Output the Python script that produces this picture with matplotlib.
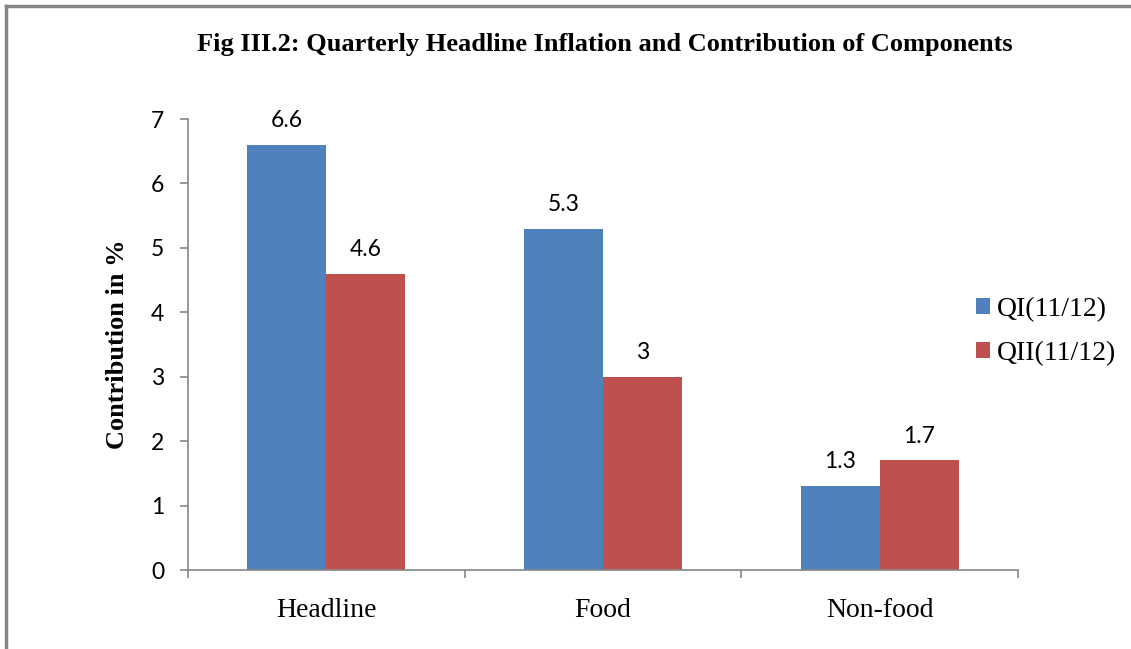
import matplotlib.pyplot as plt
import numpy as np
from matplotlib.lines import Line2D

# data
categories = ["Headline", "Food", "Non-food"]
series_names = ["QI(11/12)", "QII(11/12)"]
q1_values = [6.6, 5.3, 1.3]
q2_values = [4.6, 3.0, 1.7]
q1_labels = ["6.6", "5.3", "1.3"]
q2_labels = ["4.6", "3", "1.7"]

blue = "#4F81BD"
red = "#C0504D"
gray = "#868686"

fig = plt.figure(figsize=(11.31, 6.49), dpi=100)
ax = fig.add_axes([0.1662, 0.1217, 0.7339, 0.6949])

x = np.arange(len(categories))
w = 0.286
b1 = ax.bar(x - w / 2, q1_values, w, color=blue, label=series_names[0])
b2 = ax.bar(x + w / 2, q2_values, w, color=red, label=series_names[1])

# data labels
for bars, labels in ((b1, q1_labels), (b2, q2_labels)):
    for rect, lab in zip(bars, labels):
        ax.annotate(lab, (rect.get_x() + rect.get_width() / 2, rect.get_height()),
                    xytext=(0, 10), textcoords="offset points", ha="center", va="bottom",
                    fontsize=16.5, family="Lato")

ax.set_xlim(-0.5, 2.5)
ax.set_ylim(0, 7)
ax.set_yticks(range(0, 8))
ax.set_yticklabels([str(i) for i in range(0, 8)], fontsize=16.5, family="Lato")

# category boundary ticks on x
ax.set_xticks([-0.5, 0.5, 1.5, 2.5])
ax.set_xticklabels([])
ax.set_xticks(x, minor=True)
ax.set_xticklabels(categories, minor=True, fontsize=20, family="Liberation Serif")
ax.tick_params(axis="x", which="minor", length=0, pad=20)
ax.tick_params(axis="x", which="major", length=6, color=gray, width=1.2)
ax.tick_params(axis="y", length=6, color=gray, width=1.2, pad=11)

for s in ("top", "right"):
    ax.spines[s].set_visible(False)
for s in ("left", "bottom"):
    ax.spines[s].set_color(gray)
    ax.spines[s].set_linewidth(1.2)

ax.set_ylabel("Contribution in %", fontsize=19, fontweight="bold",
              family="Liberation Serif", labelpad=16)

fig.text(0.535, 0.932, "Fig III.2: Quarterly Headline Inflation and Contribution of Components",
         ha="center", va="center", fontsize=19, fontweight="bold", family="Liberation Serif")

fig.legend(loc="center left", bbox_to_anchor=(976 / 1131, 1 - 331.5 / 649),
           bbox_transform=fig.transFigure, frameon=False, borderaxespad=0, borderpad=0,
           prop={"family": "Liberation Serif", "size": 20},
           handlelength=0.5, handleheight=0.5, handletextpad=0.25, labelspacing=0.68)

# chart border (left and top visible)
fig.add_artist(Line2D([6 / 1131, 6 / 1131], [0, 1 - 6 / 649], color=gray, lw=2.5,
                      transform=fig.transFigure))
fig.add_artist(Line2D([6 / 1131, 1], [1 - 6 / 649, 1 - 6 / 649], color=gray, lw=2.5,
                      transform=fig.transFigure))

fig.savefig("out.png", dpi=100)
